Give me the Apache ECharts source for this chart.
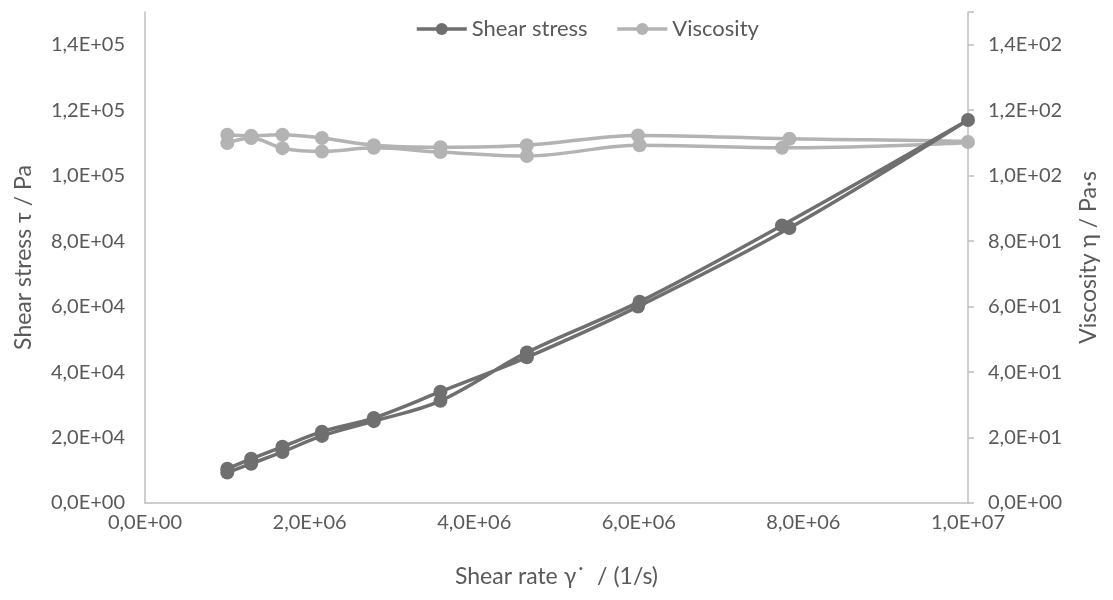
<!DOCTYPE html>
<html>
<head>
<meta charset="utf-8">
<script src="https://cdn.jsdelivr.net/npm/echarts@6/dist/echarts.min.js"></script>
<style>
  html, body { margin: 0; padding: 0; background: #fff; }
  #chart { width: 1113px; height: 600px; }
</style>
</head>
<body>
<div id="chart"></div>
<script>
// Shear rate steps (1/s): upward sweep, then the return sweep
const rateUp   = [1.00e6, 1.29e6, 1.67e6, 2.15e6, 2.78e6, 3.59e6, 4.64e6, 5.99e6, 7.83e6, 1.00e7];
const rateDown = [7.74e6, 6.01e6, 4.64e6, 3.59e6, 2.78e6, 2.15e6, 1.67e6, 1.29e6, 1.00e6];

// Shear stress τ (Pa)
const stressUp   = [10500, 13500, 17200, 21800, 26000, 34000, 44500, 60000, 84000, 117000];
const stressDown = [84800, 61500, 46000, 31200, 25000, 20500, 15600, 12000, 9300];

// Viscosity η (Pa·s)
const viscUp   = [112.5, 112.2, 112.5, 111.5, 109.3, 108.7, 109.3, 112.3, 111.3, 110.3];
const viscDown = [108.5, 109.3, 106.0, 107.2, 108.5, 107.4, 108.4, 111.5, 110.0];

// Axis tick steps
const xTicks = { min: 0, max: 1.0e7, interval: 2.0e6 };
const stressTicks = { min: 0, max: 150000, interval: 20000 };
const viscTicks = { min: 0, max: 150, interval: 20 };

const FONT = 'Lato, "Open Sans", sans-serif';
const TEXT = '#595959';
const AXIS = '#bfbfbf';
const DARK = '#6f6f6f';
const LIGHT = '#b3b3b3';

function sci(v) {
  // Excel-style "0,0E+00" labels
  if (v === 0) return '0,0E+00';
  const e = Math.floor(Math.log10(Math.abs(v)) + 1e-9);
  const m = v / Math.pow(10, e);
  const es = (e < 0 ? '-' : '+') + String(Math.abs(e)).padStart(2, '0');
  return m.toFixed(1).replace('.', ',') + 'E' + es;
}

function pairs(xs, ys) { return xs.map((x, i) => [x, ys[i]]); }

const stressData = pairs(rateUp, stressUp).concat(pairs(rateDown, stressDown));
const viscData = pairs(rateUp, viscUp).concat(pairs(rateDown, viscDown));

const chart = echarts.init(document.getElementById('chart'), null, { renderer: 'canvas' });
chart.setOption({
  animation: false,
  backgroundColor: '#ffffff',
  textStyle: { fontFamily: FONT },
  grid: { left: 145, right: 145, top: 12, bottom: 97, containLabel: false },
  legend: {
    top: 13,
    left: 410,
    itemWidth: 50,
    itemHeight: 15,
    itemGap: 28,
    lineStyle: { width: 3.5 },
    textStyle: { fontFamily: FONT, fontSize: 22, color: TEXT },
    data: ['Shear stress', 'Viscosity']
  },
  xAxis: {
    type: 'value',
    min: xTicks.min, max: xTicks.max, interval: xTicks.interval,
    name: 'Shear rate γ˙  / (1/s)',
    nameLocation: 'middle',
    nameGap: 62,
    nameTextStyle: { fontFamily: FONT, fontSize: 23, color: TEXT },
    axisLine: { show: true, lineStyle: { color: AXIS, width: 1.5 } },
    axisTick: { show: false },
    splitLine: { show: false },
    axisLabel: { margin: 10, fontSize: 20, color: TEXT, fontFamily: FONT, formatter: v => sci(v) }
  },
  yAxis: [
    {
      type: 'value',
      position: 'left',
      min: stressTicks.min, max: stressTicks.max, interval: stressTicks.interval,
      name: 'Shear stress τ / Pa',
      nameLocation: 'middle',
      nameGap: 110,
      nameTextStyle: { fontFamily: FONT, fontSize: 23, color: TEXT },
      axisLine: { show: true, lineStyle: { color: AXIS, width: 1.5 } },
      axisTick: { show: false },
      splitLine: { show: false },
      axisLabel: {
        margin: 20, fontSize: 20, color: TEXT, fontFamily: FONT,
        formatter: v => (v > 140000 ? '' : sci(v))
      }
    },
    {
      type: 'value',
      position: 'right',
      min: viscTicks.min, max: viscTicks.max, interval: viscTicks.interval,
      name: 'Viscosity η / Pa·s',
      nameLocation: 'middle',
      nameGap: 109,
      nameTextStyle: { fontFamily: FONT, fontSize: 23, color: TEXT },
      axisLine: { show: true, lineStyle: { color: AXIS, width: 1.5 } },
      axisTick: { show: true, inside: false, length: 6, lineStyle: { color: AXIS, width: 1.5 } },
      splitLine: { show: false },
      axisLabel: {
        margin: 20, fontSize: 20, color: TEXT, fontFamily: FONT,
        formatter: v => (v > 140 ? '' : sci(v))
      }
    }
  ],
  series: [
    {
      name: 'Viscosity',
      type: 'line',
      yAxisIndex: 1,
      data: viscData,
      smooth: 0.35,
      symbol: 'circle',
      symbolSize: 14,
      lineStyle: { color: LIGHT, width: 3.5 },
      itemStyle: { color: LIGHT },
      z: 2
    },
    {
      name: 'Shear stress',
      type: 'line',
      yAxisIndex: 0,
      data: stressData,
      smooth: 0.35,
      symbol: 'circle',
      symbolSize: 14,
      lineStyle: { color: DARK, width: 3.5 },
      itemStyle: { color: DARK },
      z: 3
    }
  ]
});
</script>
</body>
</html>
